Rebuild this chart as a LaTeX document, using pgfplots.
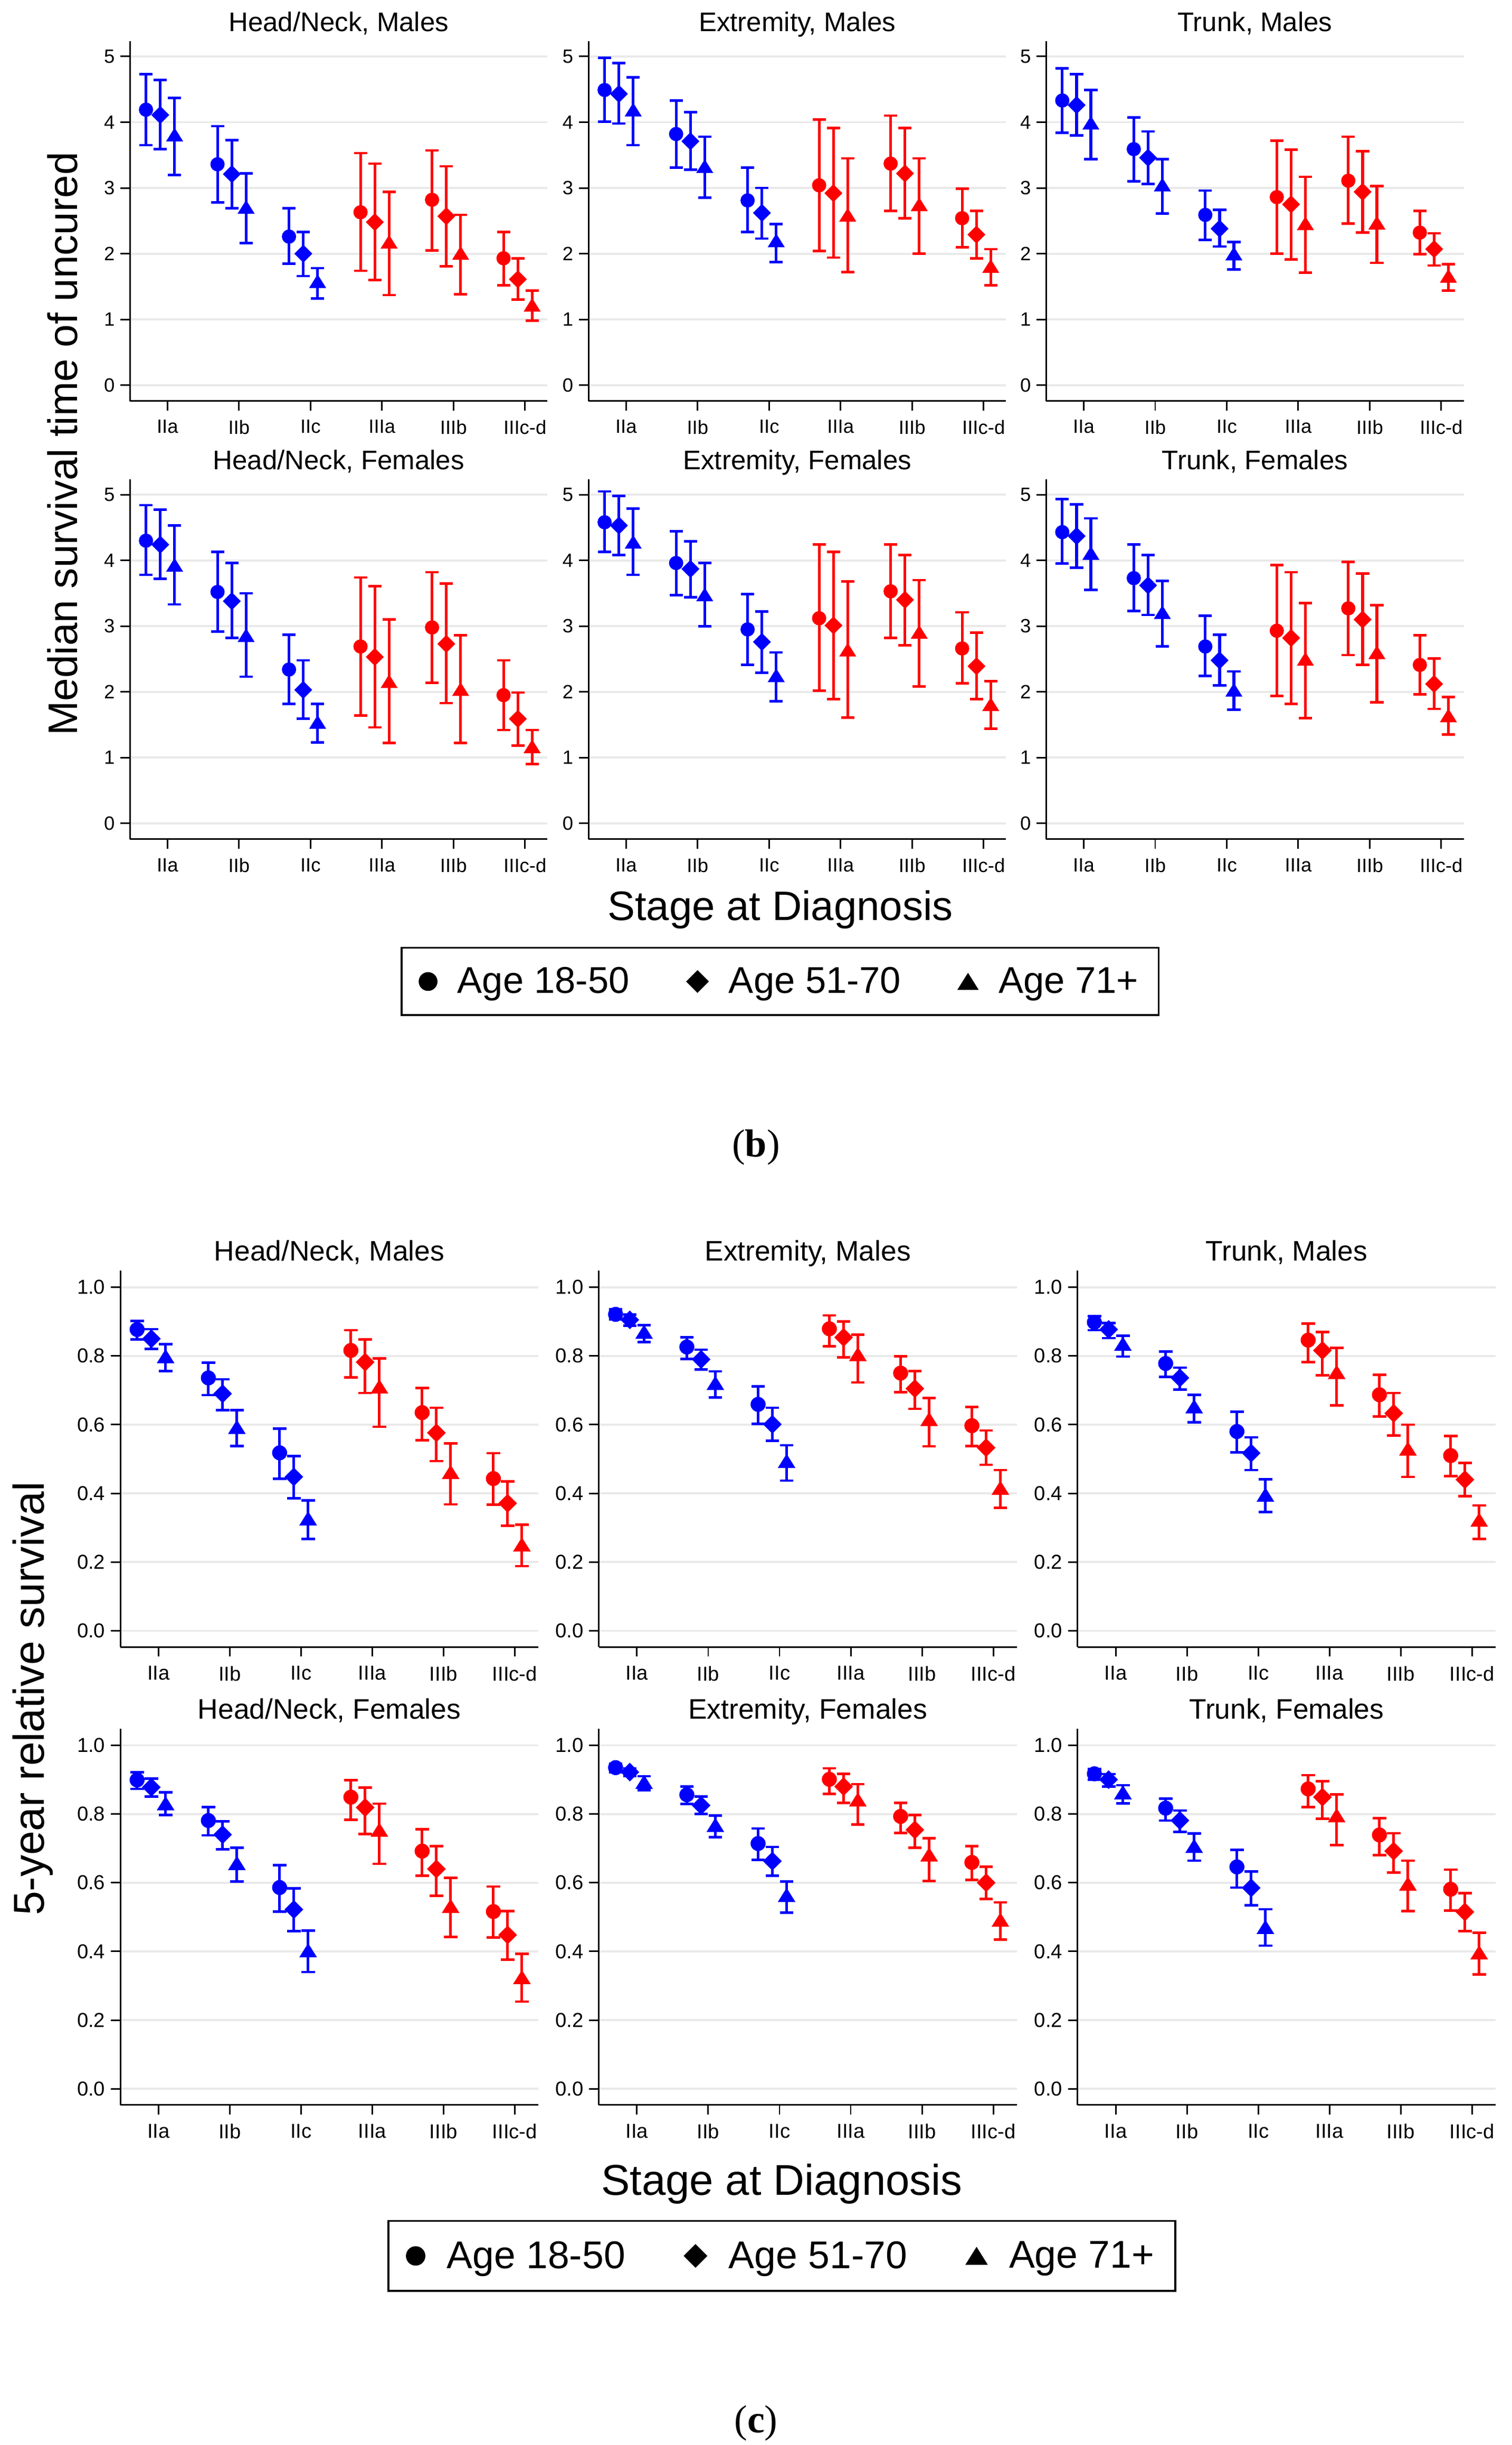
\documentclass[border=0pt]{standalone}
\usepackage{pgfplots}
\pgfplotsset{compat=1.18}
\usepackage{pgfplotstable}
\usepackage{fontspec}
\setmainfont{Liberation Sans}
\newfontfamily\seriffont{Liberation Serif}

\definecolor{sblue}{RGB}{0,0,255}
\definecolor{sred}{RGB}{255,0,0}
\definecolor{gridgray}{RGB}{233,233,233}

\pgfdeclareplotmark{sdiamond}{%
  \pgfpathmoveto{\pgfqpoint{0pt}{\pgfplotmarksize}}%
  \pgfpathlineto{\pgfqpoint{\pgfplotmarksize}{0pt}}%
  \pgfpathlineto{\pgfqpoint{0pt}{-\pgfplotmarksize}}%
  \pgfpathlineto{\pgfqpoint{-\pgfplotmarksize}{0pt}}%
  \pgfpathclose
  \pgfusepathqfillstroke
}
\pgfdeclareplotmark{stri}{%
  \pgfpathmoveto{\pgfqpoint{0pt}{0.8\pgfplotmarksize}}%
  \pgfpathlineto{\pgfqpoint{\pgfplotmarksize}{-0.8\pgfplotmarksize}}%
  \pgfpathlineto{\pgfqpoint{-\pgfplotmarksize}{-0.8\pgfplotmarksize}}%
  \pgfpathclose
  \pgfusepathqfillstroke
}

% columns: stage, circle (18-50) est/lo/hi, diamond (51-70), triangle (71+)
\pgfplotstableread{
s c cl ch d dl dh t tl th
1 4.19 3.65 4.73 4.11 3.59 4.64 3.81 3.20 4.37
2 3.36 2.78 3.94 3.21 2.69 3.73 2.71 2.16 3.22
3 2.26 1.85 2.69 2.00 1.66 2.33 1.58 1.32 1.78
4 2.63 1.74 3.53 2.48 1.60 3.37 2.18 1.37 2.94
5 2.82 2.05 3.57 2.57 1.81 3.33 2.01 1.38 2.59
6 1.93 1.52 2.33 1.61 1.30 1.93 1.22 0.98 1.44
}\bHNM
\pgfplotstableread{
s c cl ch d dl dh t tl th
1 4.49 4.01 4.98 4.43 3.98 4.90 4.19 3.65 4.68
2 3.82 3.31 4.33 3.71 3.28 4.15 3.33 2.85 3.78
3 2.81 2.33 3.31 2.62 2.23 3.00 2.20 1.87 2.45
4 3.04 2.04 4.04 2.92 1.94 3.91 2.59 1.72 3.45
5 3.37 2.65 4.10 3.22 2.54 3.91 2.75 2.00 3.45
6 2.54 2.10 2.99 2.29 1.93 2.65 1.81 1.52 2.07
}\bEM
\pgfplotstableread{
s c cl ch d dl dh t tl th
1 4.33 3.84 4.82 4.26 3.80 4.73 3.99 3.44 4.49
2 3.59 3.10 4.07 3.46 3.06 3.86 3.05 2.61 3.44
3 2.59 2.21 2.96 2.38 2.11 2.67 2.00 1.76 2.18
4 2.86 2.00 3.72 2.75 1.91 3.58 2.46 1.71 3.17
5 3.11 2.46 3.78 2.94 2.32 3.56 2.47 1.86 3.03
6 2.32 1.99 2.65 2.07 1.82 2.31 1.66 1.44 1.84
}\bTM
\pgfplotstableread{
s c cl ch d dl dh t tl th
1 4.30 3.78 4.84 4.24 3.72 4.77 3.93 3.33 4.53
2 3.52 2.92 4.13 3.38 2.82 3.96 2.86 2.23 3.50
3 2.34 1.82 2.87 2.03 1.59 2.48 1.54 1.23 1.82
4 2.69 1.64 3.74 2.53 1.46 3.61 2.16 1.22 3.10
5 2.98 2.14 3.82 2.73 1.83 3.65 2.04 1.22 2.86
6 1.95 1.42 2.48 1.59 1.18 1.99 1.17 0.90 1.42
}\bHNF
\pgfplotstableread{
s c cl ch d dl dh t tl th
1 4.58 4.13 5.05 4.53 4.08 4.98 4.28 3.78 4.79
2 3.96 3.47 4.44 3.87 3.44 4.29 3.48 3.00 3.96
3 2.95 2.41 3.49 2.76 2.29 3.22 2.25 1.86 2.60
4 3.12 2.02 4.24 3.01 1.89 4.13 2.64 1.61 3.68
5 3.53 2.82 4.24 3.40 2.71 4.08 2.91 2.08 3.70
6 2.66 2.13 3.21 2.39 1.89 2.90 1.81 1.44 2.16
}\bEF
\pgfplotstableread{
s c cl ch d dl dh t tl th
1 4.43 3.95 4.93 4.37 3.89 4.85 4.11 3.55 4.64
2 3.73 3.23 4.24 3.62 3.17 4.08 3.21 2.69 3.69
3 2.69 2.24 3.16 2.48 2.10 2.87 2.03 1.73 2.31
4 2.93 1.94 3.93 2.82 1.82 3.82 2.50 1.60 3.35
5 3.27 2.56 3.98 3.10 2.41 3.80 2.60 1.84 3.32
6 2.41 1.96 2.86 2.12 1.74 2.51 1.64 1.35 1.92
}\bTF
\pgfplotstableread{
s c cl ch d dl dh t tl th
1 0.877 0.848 0.902 0.850 0.821 0.878 0.799 0.756 0.834
2 0.736 0.686 0.781 0.690 0.642 0.732 0.593 0.538 0.642
3 0.518 0.442 0.588 0.448 0.386 0.508 0.327 0.267 0.379
4 0.816 0.738 0.875 0.782 0.692 0.848 0.711 0.594 0.793
5 0.635 0.555 0.707 0.576 0.494 0.649 0.462 0.368 0.545
6 0.443 0.367 0.517 0.371 0.306 0.435 0.251 0.188 0.309
}\cHNM
\pgfplotstableread{
s c cl ch d dl dh t tl th
1 0.921 0.906 0.936 0.905 0.888 0.920 0.870 0.840 0.890
2 0.826 0.791 0.854 0.790 0.761 0.818 0.721 0.679 0.755
3 0.659 0.602 0.711 0.601 0.553 0.649 0.494 0.437 0.540
4 0.879 0.828 0.918 0.854 0.796 0.900 0.805 0.723 0.862
5 0.750 0.694 0.799 0.705 0.646 0.756 0.616 0.537 0.678
6 0.597 0.538 0.651 0.533 0.483 0.583 0.416 0.358 0.468
}\cEM
\pgfplotstableread{
s c cl ch d dl dh t tl th
1 0.898 0.875 0.916 0.877 0.852 0.896 0.835 0.798 0.859
2 0.778 0.739 0.813 0.736 0.702 0.766 0.653 0.607 0.687
3 0.580 0.519 0.638 0.517 0.468 0.563 0.396 0.346 0.441
4 0.846 0.782 0.894 0.816 0.744 0.870 0.753 0.656 0.823
5 0.687 0.624 0.745 0.633 0.569 0.692 0.530 0.448 0.600
6 0.510 0.450 0.567 0.440 0.392 0.489 0.323 0.267 0.365
}\cTM
\pgfplotstableread{
s c cl ch d dl dh t tl th
1 0.899 0.873 0.921 0.878 0.851 0.903 0.831 0.797 0.863
2 0.781 0.738 0.820 0.740 0.697 0.779 0.657 0.603 0.702
3 0.586 0.516 0.651 0.522 0.459 0.584 0.403 0.340 0.461
4 0.849 0.783 0.898 0.819 0.742 0.877 0.754 0.655 0.830
5 0.692 0.620 0.756 0.640 0.562 0.706 0.532 0.442 0.614
6 0.516 0.441 0.589 0.448 0.376 0.517 0.325 0.254 0.393
}\cHNF
\pgfplotstableread{
s c cl ch d dl dh t tl th
1 0.935 0.922 0.946 0.922 0.910 0.932 0.893 0.869 0.910
2 0.856 0.829 0.880 0.825 0.800 0.851 0.768 0.732 0.796
3 0.714 0.667 0.758 0.663 0.620 0.704 0.564 0.513 0.604
4 0.901 0.859 0.933 0.880 0.832 0.917 0.842 0.770 0.887
5 0.793 0.745 0.833 0.754 0.702 0.797 0.682 0.605 0.730
6 0.659 0.608 0.707 0.600 0.553 0.647 0.492 0.435 0.543
}\cEF
\pgfplotstableread{
s c cl ch d dl dh t tl th
1 0.917 0.900 0.931 0.900 0.880 0.916 0.863 0.831 0.884
2 0.817 0.781 0.845 0.781 0.748 0.810 0.707 0.664 0.743
3 0.646 0.586 0.696 0.585 0.534 0.633 0.471 0.417 0.523
4 0.873 0.820 0.913 0.849 0.786 0.895 0.796 0.710 0.857
5 0.739 0.680 0.788 0.692 0.630 0.744 0.597 0.517 0.664
6 0.581 0.519 0.638 0.515 0.459 0.570 0.397 0.333 0.455
}\cTF

\pgfplotsset{
  ebar/.style 2 args={
    error bars/y dir=both, error bars/y explicit,
    error bars/error mark=|,
    error bars/error bar style={line width=1.75pt, #1},
    error bars/error mark options={#1, mark size=#2, line width=1.6pt}},
  stata/.style={
    scale only axis,
    axis x line*=bottom, axis y line*=left,
    axis line style={-, line width=1pt, black},
    tick align=outside,
    major tick length=6.2pt,
    tick style={black, line width=1pt},
    xtick={1,2,3,4,5,6},
    xticklabels={IIa,IIb,IIc,IIIa,IIIb,IIIc-d},
    xticklabel shift=2.5pt,
    ymajorgrids,
    grid style={gridgray, line width=1.3pt},
    /pgf/number format/assume math mode=true,
    clip=false,
    anchor=south west,
  },
  panelb/.style={stata,
    width=266.8pt, height=229.7pt,
    xmin=0.475, xmax=6.315, ymin=-0.24, ymax=5.23,
    ytick={0,1,2,3,4,5},
    tick label style={font=\fontsize{12.3}{14}\selectfont},
    title style={font=\fontsize{17.2}{20}\selectfont, anchor=base, yshift=0.3pt},
  },
  panelc/.style={stata,
    width=267pt, height=240.3pt,
    xmin=0.465, xmax=6.33, ymin=-0.047, ymax=1.048,
    ytick={0,0.2,0.4,0.6,0.8,1},
    yticklabels={0.0,0.2,0.4,0.6,0.8,1.0},
    tick label style={font=\fontsize{12.9}{15}\selectfont},
    title style={font=\fontsize{18}{21}\selectfont, anchor=base, yshift=0.3pt},
  },
  leg/.style={
    legend image code/.code={\draw[##1] plot coordinates {(0pt,0pt)};},
  },
}

% #1 table, #2 circle r, #3 diamond r, #4 triangle r, #5 cap half-width
\newcommand{\series}[5]{%
  \addplot[forget plot, only marks, sblue, mark=*, mark size=#2, skip coords between index={3}{6}, ebar={sblue}{#5}]
    table[x expr=\thisrow{s}-0.3, y=c, y error plus expr=\thisrow{ch}-\thisrow{c}, y error minus expr=\thisrow{c}-\thisrow{cl}] {#1};
  \addplot[forget plot, only marks, sred, mark=*, mark size=#2, skip coords between index={0}{3}, ebar={sred}{#5}]
    table[x expr=\thisrow{s}-0.3, y=c, y error plus expr=\thisrow{ch}-\thisrow{c}, y error minus expr=\thisrow{c}-\thisrow{cl}] {#1};
  \addplot[forget plot, only marks, sblue, mark=sdiamond, mark size=#3, skip coords between index={3}{6}, ebar={sblue}{#5}]
    table[x expr=\thisrow{s}-0.1, y=d, y error plus expr=\thisrow{dh}-\thisrow{d}, y error minus expr=\thisrow{d}-\thisrow{dl}] {#1};
  \addplot[forget plot, only marks, sred, mark=sdiamond, mark size=#3, skip coords between index={0}{3}, ebar={sred}{#5}]
    table[x expr=\thisrow{s}-0.1, y=d, y error plus expr=\thisrow{dh}-\thisrow{d}, y error minus expr=\thisrow{d}-\thisrow{dl}] {#1};
  \addplot[forget plot, only marks, sblue, mark=stri, mark size=#4, skip coords between index={3}{6}, ebar={sblue}{#5}]
    table[x expr=\thisrow{s}+0.1, y=t, y error plus expr=\thisrow{th}-\thisrow{t}, y error minus expr=\thisrow{t}-\thisrow{tl}] {#1};
  \addplot[forget plot, only marks, sred, mark=stri, mark size=#4, skip coords between index={0}{3}, ebar={sred}{#5}]
    table[x expr=\thisrow{s}+0.1, y=t, y error plus expr=\thisrow{th}-\thisrow{t}, y error minus expr=\thisrow{t}-\thisrow{tl}] {#1};
}
\newcommand{\bseries}[1]{\series{#1}{4.35pt}{5.45pt}{5.1pt}{4.25pt}}
\newcommand{\cseries}[1]{\series{#1}{4.6pt}{5.7pt}{5.3pt}{4.35pt}}

\begin{document}
\begin{tikzpicture}
\path[use as bounding box] (0,0) rectangle (966pt,-1561.8pt);

% ---------------- panel (b) ----------------
\begin{axis}[panelb, at={(83pt,-256.1pt)}, title={Head/Neck, Males}]
\bseries{\bHNM}
\end{axis}
\begin{axis}[panelb, at={(376pt,-256.1pt)}, title={Extremity, Males}]
\bseries{\bEM}
\end{axis}
\begin{axis}[panelb, at={(668.4pt,-256.1pt)}, title={Trunk, Males}]
\bseries{\bTM}
\end{axis}
\begin{axis}[panelb, at={(83pt,-536pt)}, title={Head/Neck, Females}]
\bseries{\bHNF}
\end{axis}
\begin{axis}[panelb, leg, at={(376pt,-536pt)}, title={Extremity, Females},
  legend columns=3,
  legend style={at={(0.4591,-0.396)}, anchor=center, draw=black, line width=1.3pt, fill=white,
    font=\fontsize{23.8}{28}\selectfont, inner xsep=11pt, inner ysep=10.5pt,
    nodes={inner sep=2pt},
    /tikz/every odd column/.append style={column sep=11pt},
    /tikz/every even column/.append style={column sep=34.5pt}},
  legend cell align=left]
\addlegendimage{only marks, black, mark=*, mark size=5.8pt, line width=0.4pt}
\addlegendentry{Age 18-50}
\addlegendimage{only marks, black, mark=sdiamond, mark size=7pt, line width=0.4pt}
\addlegendentry{Age 51-70}
\addlegendimage{only marks, black, mark=stri, mark size=6.5pt, line width=0.4pt}
\addlegendentry{Age 71+}
\bseries{\bEF}
\end{axis}
\begin{axis}[panelb, at={(668.4pt,-536pt)}, title={Trunk, Females}]
\bseries{\bTF}
\end{axis}

\node[font=\fontsize{26.3}{30}\selectfont] at (498.5pt,-581pt) {Stage at Diagnosis};
\node[rotate=90, font=\fontsize{26.4}{30}\selectfont] at (40pt,-283.5pt) {Median survival time of uncured};
\node[font=\seriffont\fontsize{25}{30}\selectfont] at (483pt,-733pt) {(\textbf{b})};

% ---------------- panel (c) ----------------
\begin{axis}[panelc, at={(76.9pt,-1052pt)}, title={Head/Neck, Males}]
\cseries{\cHNM}
\end{axis}
\begin{axis}[panelc, at={(382.6pt,-1052pt)}, title={Extremity, Males}]
\cseries{\cEM}
\end{axis}
\begin{axis}[panelc, at={(688.5pt,-1052pt)}, title={Trunk, Males}]
\cseries{\cTM}
\end{axis}
\begin{axis}[panelc, at={(76.9pt,-1344.6pt)}, title={Head/Neck, Females}]
\cseries{\cHNF}
\end{axis}
\begin{axis}[panelc, leg, at={(382.6pt,-1344.6pt)}, title={Extremity, Females},
  legend columns=3,
  legend style={at={(0.4378,-0.4012)}, anchor=center, draw=black, line width=1.3pt, fill=white,
    font=\fontsize{24.7}{29}\selectfont, inner xsep=11.5pt, inner ysep=11pt,
    nodes={inner sep=2pt},
    /tikz/every odd column/.append style={column sep=12pt},
    /tikz/every even column/.append style={column sep=35.5pt}},
  legend cell align=left]
\addlegendimage{only marks, black, mark=*, mark size=6pt, line width=0.4pt}
\addlegendentry{Age 18-50}
\addlegendimage{only marks, black, mark=sdiamond, mark size=7.3pt, line width=0.4pt}
\addlegendentry{Age 51-70}
\addlegendimage{only marks, black, mark=stri, mark size=6.8pt, line width=0.4pt}
\addlegendentry{Age 71+}
\cseries{\cEF}
\end{axis}
\begin{axis}[panelc, at={(688.5pt,-1344.6pt)}, title={Trunk, Females}]
\cseries{\cTF}
\end{axis}

\node[font=\fontsize{27.5}{31}\selectfont] at (499.5pt,-1395pt) {Stage at Diagnosis};
\node[rotate=90, font=\fontsize{27.7}{31}\selectfont] at (21pt,-1085pt) {5-year relative survival};
\node[font=\seriffont\fontsize{25}{30}\selectfont] at (483pt,-1548pt) {(\textbf{c})};
\end{tikzpicture}
\end{document}
